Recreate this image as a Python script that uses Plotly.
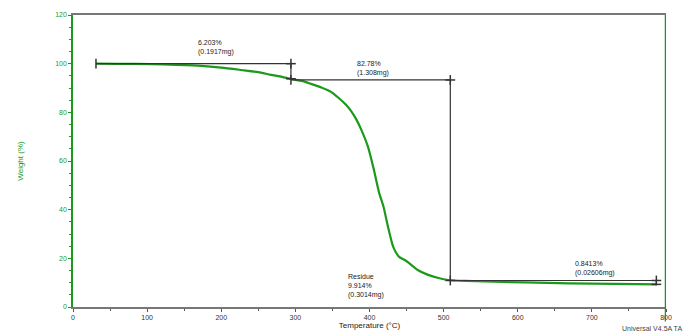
import plotly.graph_objects as go

# TGA curve
temp_c = [31, 60, 105, 140, 173, 200, 227, 250, 267, 282, 294, 310, 321, 335, 348, 358, 368, 375, 382, 389,
          398, 406, 413, 419, 425, 432, 440, 447, 453, 465, 479, 493, 506, 530, 580, 640, 700, 760, 787]
weight_pct = [100.0, 99.95, 99.8, 99.5, 99.1, 98.4, 97.4, 96.5, 95.4, 94.6, 93.7, 92.8, 91.7, 90.2, 88.4, 86.0, 83.2, 80.6, 77.2, 72.8,
              65.8, 56.3, 46.9, 41.1, 32.9, 24.7, 20.6, 19.4, 18.1, 15.2, 13.2, 11.9, 11.1, 10.7, 10.3, 9.9, 9.6, 9.4, 9.3]

# step analysis marks
step_T = [31, 294, 509, 787]
step_W = [100.0, 93.8, 93.3, 10.9, 9.3]
step_labels = ["6.203%<br>(0.1917mg)", "82.78%<br>(1.308mg)", "0.8413%<br>(0.02606mg)"]
residue_label = "Residue<br>9.914%<br>(0.3014mg)"

x_ticks = [0, 100, 200, 300, 400, 500, 600, 700, 800]
y_ticks = [0, 20, 40, 60, 80, 100, 120]

green = "#1a9a1a"
dark = "#333333"

fig = go.Figure()
fig.add_trace(go.Scatter(x=temp_c, y=weight_pct, mode="lines", line_shape="spline",
                         line=dict(color=green, width=2.2, smoothing=0.6), showlegend=False))

def seg(xs, ys, symbols):
    fig.add_trace(go.Scatter(x=xs, y=ys, mode="lines+markers",
                             line=dict(color=dark, width=1.2),
                             marker=dict(symbol=symbols, size=7, color=dark,
                                         line=dict(color=dark, width=1.5)),
                             showlegend=False))

# step 1
seg([step_T[0], step_T[1]], [step_W[0], step_W[0]], ["line-ns", "line-ns"])
seg([step_T[1], step_T[1]], [step_W[0], step_W[1]], ["line-ew", "line-ew"])
# step 2
seg([step_T[1], step_T[2]], [step_W[2], step_W[2]], ["line-ns", "line-ns"])
seg([step_T[2], step_T[2]], [step_W[2], step_W[3]], ["line-ew", "line-ew"])
# step 3
seg([step_T[2], step_T[3]], [step_W[3], step_W[3]], ["line-ns", "line-ns"])
seg([step_T[3], step_T[3]], [step_W[3], step_W[4]], ["line-ew", "line-ew"])

ann_font = dict(family="Liberation Sans, Arial", size=7, color="#222222")
fig.add_annotation(x=166, y=111, text=step_labels[0], showarrow=False, xanchor="left",
                   yanchor="top", align="left", font=ann_font)
fig.add_annotation(x=380, y=102.5, text=step_labels[1], showarrow=False, xanchor="left",
                   yanchor="top", align="left", font=ann_font)
fig.add_annotation(x=674, y=11.6, text=step_labels[2], showarrow=False, xanchor="left",
                   yanchor="bottom", align="left", font=ann_font)
fig.add_annotation(x=368, y=15, text=residue_label, showarrow=False, xanchor="left",
                   yanchor="top", align="left", font=ann_font)
fig.add_annotation(x=1.03, y=-0.055, xref="paper", yref="paper", text="Universal V4.5A TA",
                   showarrow=False, xanchor="right", yanchor="top",
                   font=dict(family="Liberation Sans, Arial", size=7, color="#444444"))

fig.update_layout(
    width=683, height=336,
    margin=dict(l=73, r=17, t=15, b=29),
    paper_bgcolor="white", plot_bgcolor="white",
    font=dict(family="Liberation Sans, Arial", size=7, color="#222222"),
    xaxis=dict(range=[0, 800], tickvals=x_ticks, ticktext=[str(v) for v in x_ticks],
               automargin=False,
               showgrid=False, zeroline=False, showline=True, linecolor="#777777", linewidth=1.5,
               mirror=True, ticks="outside", ticklen=3, tickcolor="#555555",
               minor=dict(dtick=50, ticks="outside", ticklen=2, tickcolor="#555555"),
               title=dict(text="Temperature (°C)", font=dict(size=8, color="#222222"), standoff=2),
               tickfont=dict(size=7, color="#333333")),
    yaxis=dict(range=[0, 120], tickvals=y_ticks, ticktext=[str(v) for v in y_ticks],
               automargin=False,
               showgrid=False, zeroline=False, showline=True, linecolor=green, linewidth=1.5,
               ticks="outside", ticklen=3, tickcolor=green,
               minor=dict(dtick=5, ticks="outside", ticklen=2, tickcolor=green),
               title=dict(text="Weight (%)", font=dict(size=8, color=green), standoff=30),
               tickfont=dict(size=7, color=green)),
)
# right green edge
fig.add_shape(type="line", xref="x", yref="paper", x0=800, x1=800, y0=-0.05, y1=1,
              line=dict(color=green, width=2.5))

fig.write_html("out.html")
